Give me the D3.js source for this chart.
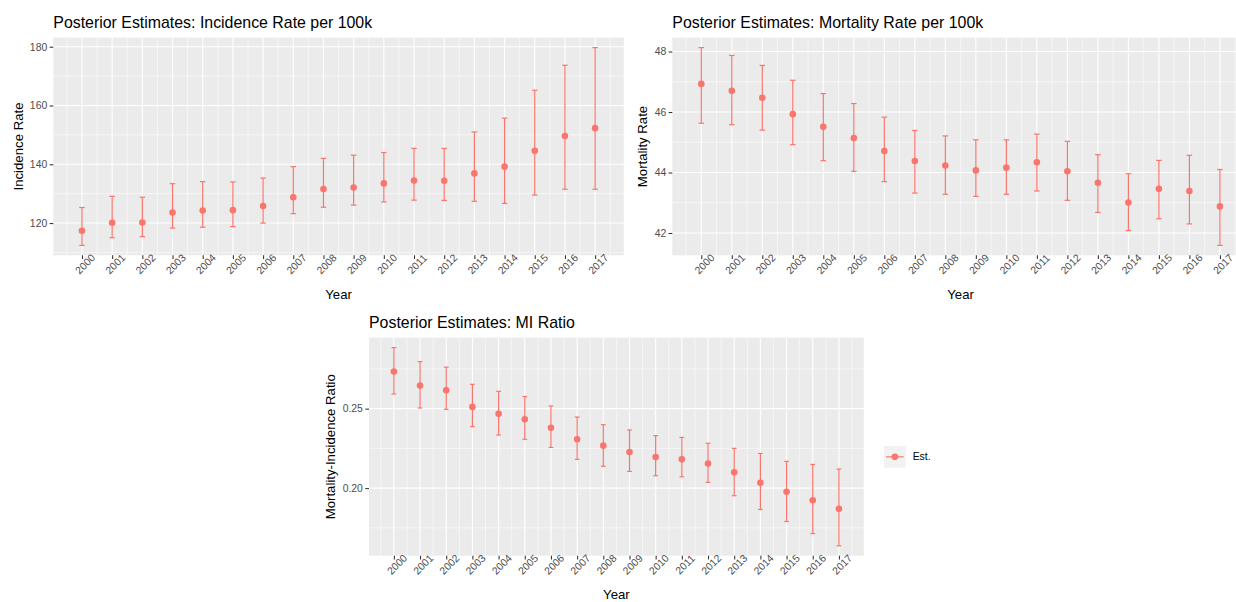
<!DOCTYPE html>
<html>
<head>
<meta charset="utf-8">
<script src="https://cdn.jsdelivr.net/npm/d3@7"></script>
<style>
  html, body { margin: 0; padding: 0; background: #ffffff; }
  svg { display: block; font-family: "Liberation Sans", Arial, Helvetica, sans-serif; }
</style>
</head>
<body>
<svg id="chart" width="1236" height="602"></svg>
<script>
// Years covered by the posterior summaries
const years = [2000, 2001, 2002, 2003, 2004, 2005, 2006, 2007, 2008,
               2009, 2010, 2011, 2012, 2013, 2014, 2015, 2016, 2017];

// Incidence rate per 100k: posterior estimate and interval bounds
const incidenceEst   = [117.4, 120.1, 120.2, 123.6, 124.3, 124.4, 125.8, 128.8, 131.6,
                        132.1, 133.5, 134.5, 134.4, 136.9, 139.2, 144.6, 149.6, 152.3];
const incidenceLower = [112.4, 115.0, 115.4, 118.3, 118.6, 118.8, 120.0, 123.2, 125.4,
                        126.1, 127.2, 127.8, 127.7, 127.4, 126.7, 129.5, 131.5, 131.5];
const incidenceUpper = [125.3, 129.1, 128.8, 133.4, 134.1, 134.0, 135.3, 139.2, 142.0,
                        143.1, 144.0, 145.4, 145.4, 151.0, 155.7, 165.2, 173.7, 179.7];

// Mortality rate per 100k
const mortalityEst   = [46.93, 46.70, 46.47, 45.93, 45.51, 45.14, 44.71, 44.38, 44.23,
                        44.07, 44.16, 44.34, 44.04, 43.66, 43.01, 43.46, 43.39, 42.88];
const mortalityLower = [45.63, 45.58, 45.40, 44.92, 44.39, 44.04, 43.70, 43.32, 43.28,
                        43.21, 43.28, 43.39, 43.08, 42.68, 42.08, 42.47, 42.30, 41.59];
const mortalityUpper = [48.13, 47.87, 47.54, 47.05, 46.61, 46.28, 45.83, 45.39, 45.21,
                        45.08, 45.08, 45.27, 45.03, 44.59, 43.96, 44.40, 44.57, 44.10];

// Mortality-to-incidence ratio
const ratioEst   = [0.2733, 0.2645, 0.2616, 0.2511, 0.2468, 0.2433, 0.2380, 0.2307, 0.2267,
                    0.2227, 0.2195, 0.2181, 0.2155, 0.2099, 0.2034, 0.1977, 0.1924, 0.1870];
const ratioLower = [0.2592, 0.2504, 0.2496, 0.2387, 0.2334, 0.2307, 0.2256, 0.2181, 0.2137,
                    0.2105, 0.2078, 0.2071, 0.2036, 0.1952, 0.1866, 0.1790, 0.1714, 0.1637];
const ratioUpper = [0.2884, 0.2796, 0.2761, 0.2653, 0.2609, 0.2576, 0.2517, 0.2447, 0.2399,
                    0.2366, 0.2330, 0.2319, 0.2282, 0.2250, 0.2218, 0.2168, 0.2149, 0.2120];

// Axis tick values
const incidenceTicks = [120, 140, 160, 180];
const mortalityTicks = [42, 44, 46, 48];
const ratioTicks     = [0.20, 0.25];

const legendLabels = ["Est."];

const COLOR = "#F8766D";
const PANEL_BG = "#EBEBEB";
const svg = d3.select("#chart");

function drawPanel(cfg) {
  const { left, top, width, height } = cfg;
  const g = svg.append("g").attr("transform", `translate(${left},${top})`);

  const x = d3.scaleLinear().domain([1999.05, 2017.95]).range([0, width]);

  // y range padded by 5% of the data span on each side
  const lo = d3.min(cfg.lower), hi = d3.max(cfg.upper);
  const pad = (hi - lo) * 0.05;
  const y = d3.scaleLinear().domain([lo - pad, hi + pad]).range([height, 0]);

  g.append("rect").attr("width", width).attr("height", height).attr("fill", PANEL_BG);

  // minor grid: midpoints between major breaks
  const xMinor = d3.range(1999.5, 2018, 1).filter(v => v >= x.domain()[0] && v <= x.domain()[1]);
  const yStep = cfg.ticks[1] - cfg.ticks[0];
  const yMinor = d3.range(cfg.ticks[0] - yStep * 1.5, cfg.ticks[cfg.ticks.length - 1] + yStep, yStep)
    .filter(v => v > y.domain()[0] && v < y.domain()[1]);

  g.append("g").selectAll("line").data(yMinor).join("line")
    .attr("x1", 0).attr("x2", width)
    .attr("y1", d => y(d)).attr("y2", d => y(d))
    .attr("stroke", "#fff").attr("stroke-width", 0.55);
  g.append("g").selectAll("line").data(xMinor).join("line")
    .attr("y1", 0).attr("y2", height)
    .attr("x1", d => x(d)).attr("x2", d => x(d))
    .attr("stroke", "#fff").attr("stroke-width", 0.55);
  g.append("g").selectAll("line").data(cfg.ticks).join("line")
    .attr("x1", 0).attr("x2", width)
    .attr("y1", d => y(d)).attr("y2", d => y(d))
    .attr("stroke", "#fff").attr("stroke-width", 1.1);
  g.append("g").selectAll("line").data(years).join("line")
    .attr("y1", 0).attr("y2", height)
    .attr("x1", d => x(d)).attr("x2", d => x(d))
    .attr("stroke", "#fff").attr("stroke-width", 1.1);

  // y axis
  const yAxis = g.append("g").call(
    d3.axisLeft(y).tickValues(cfg.ticks).tickSize(3.7).tickPadding(2.4).tickFormat(cfg.format));
  yAxis.select(".domain").remove();
  yAxis.selectAll(".tick line").attr("stroke", "#333333").attr("stroke-width", 1.07);
  yAxis.selectAll(".tick text").attr("fill", "#4D4D4D")
    .attr("font-size", "10.4px").attr("font-family", null);

  // x axis with 45-degree labels
  const xAxis = g.append("g").attr("transform", `translate(0,${height})`).call(
    d3.axisBottom(x).tickValues(years).tickSize(3.7).tickFormat(d3.format("d")));
  xAxis.select(".domain").remove();
  xAxis.selectAll(".tick line").attr("stroke", "#333333").attr("stroke-width", 1.07);
  xAxis.selectAll(".tick text")
    .attr("fill", "#4D4D4D").attr("font-size", "10.4px").attr("font-family", null)
    .attr("text-anchor", "middle")
    .attr("y", 0).attr("dy", "0.72em")
    .attr("transform", "translate(0,6) rotate(-45)");

  // error bars
  const capHalf = 0.09;
  const bars = g.append("g").attr("stroke", COLOR).attr("stroke-width", 1.2).attr("fill", "none");
  years.forEach((yr, i) => {
    bars.append("line").attr("x1", x(yr)).attr("x2", x(yr))
      .attr("y1", y(cfg.lower[i])).attr("y2", y(cfg.upper[i]));
    bars.append("line").attr("x1", x(yr - capHalf)).attr("x2", x(yr + capHalf))
      .attr("y1", y(cfg.lower[i])).attr("y2", y(cfg.lower[i]));
    bars.append("line").attr("x1", x(yr - capHalf)).attr("x2", x(yr + capHalf))
      .attr("y1", y(cfg.upper[i])).attr("y2", y(cfg.upper[i]));
  });

  // point estimates
  g.append("g").selectAll("circle").data(years).join("circle")
    .attr("cx", d => x(d)).attr("cy", (d, i) => y(cfg.est[i]))
    .attr("r", 3.3).attr("fill", COLOR);

  // titles
  g.append("text").attr("x", 0).attr("y", -9.7)
    .attr("font-size", "15.9px").attr("fill", "#000").text(cfg.title);
  g.append("text").attr("x", width / 2).attr("y", height + 43.7)
    .attr("text-anchor", "middle").attr("font-size", "13.2px").attr("fill", "#000").text("Year");
  g.append("text")
    .attr("transform", `translate(${cfg.yTitleX},${height / 2}) rotate(-90)`)
    .attr("text-anchor", "middle").attr("dy", "0.35em")
    .attr("font-size", "13.2px").attr("fill", "#000").text(cfg.yTitle);
}

drawPanel({
  left: 53.3, top: 37.7, width: 570.5, height: 217.6,
  title: "Posterior Estimates: Incidence Rate per 100k",
  yTitle: "Incidence Rate", yTitleX: 18.3 - 53.3,
  est: incidenceEst, lower: incidenceLower, upper: incidenceUpper,
  ticks: incidenceTicks, format: d3.format("d")
});

drawPanel({
  left: 672.3, top: 37.7, width: 576.6, height: 217.6,
  title: "Posterior Estimates: Mortality Rate per 100k",
  yTitle: "Mortality Rate", yTitleX: 642.8 - 672.3,
  est: mortalityEst, lower: mortalityLower, upper: mortalityUpper,
  ticks: mortalityTicks, format: d3.format("d")
});

drawPanel({
  left: 369, top: 337.7, width: 494.8, height: 218,
  title: "Posterior Estimates: MI Ratio",
  yTitle: "Mortality-Incidence Ratio", yTitleX: 330.8 - 369,
  est: ratioEst, lower: ratioLower, upper: ratioUpper,
  ticks: ratioTicks, format: d3.format(".2f")
});

// legend
const legend = svg.append("g").attr("transform", "translate(884,446)");
legendLabels.forEach((label, i) => {
  const row = legend.append("g").attr("transform", `translate(0,${i * 21.7})`);
  row.append("rect").attr("width", 21.7).attr("height", 21.7).attr("fill", "#F2F2F2");
  row.append("line").attr("x1", 2).attr("x2", 19.7).attr("y1", 10.85).attr("y2", 10.85)
    .attr("stroke", COLOR).attr("stroke-width", 1.2);
  row.append("circle").attr("cx", 10.85).attr("cy", 10.85).attr("r", 3.3).attr("fill", COLOR);
  row.append("text").attr("x", 28.7).attr("y", 10.85).attr("dy", "0.35em")
    .attr("font-size", "10.4px").attr("fill", "#000").text(label);
});
</script>
</body>
</html>
